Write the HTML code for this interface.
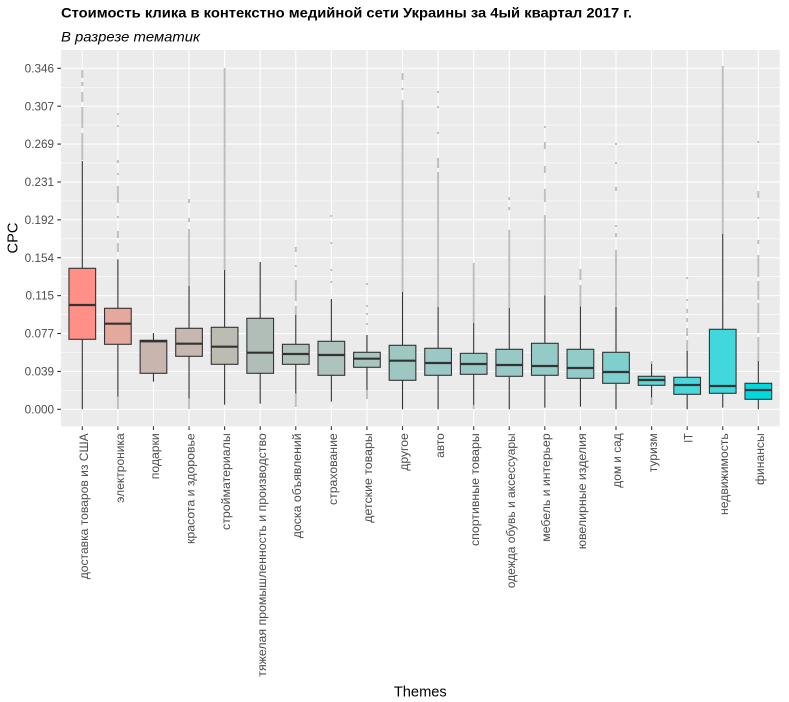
<!DOCTYPE html>
<html><head><meta charset="utf-8"><style>
html,body{margin:0;padding:0;background:#fff;}
svg{display:block;}
text{font-family:"Liberation Sans","Noto Sans CJK SC",sans-serif;}
</style></head><body>
<svg id="s" width="789" height="702" viewBox="0 0 789 702" xmlns="http://www.w3.org/2000/svg">
<rect x="0" y="0" width="789" height="702" fill="#fff"/>
<text x="61" y="17.5" font-size="14" font-weight="bold" fill="#000" textLength="571" lengthAdjust="spacingAndGlyphs">Стоимость клика в контекстно медийной сети Украины за 4ый квартал 2017 г.</text>
<text x="61" y="41.7" font-size="14" font-style="italic" fill="#000" textLength="139" lengthAdjust="spacingAndGlyphs">В разрезе тематик</text>
<rect x="61" y="50" width="718.7" height="376.3" fill="#EBEBEB"/>
<g id="grid"></g>
<g id="out"></g>
<g id="boxes"></g>
<g id="axes"></g>
<text transform="translate(17.3,238) rotate(-90)" text-anchor="middle" font-size="14.67" fill="#000">CPC</text>
<text x="420.3" y="696.7" text-anchor="middle" font-size="14.67" fill="#000">Themes</text>
<g fill="#4D4D4D" font-size="11.73">
<text x="54" y="409.3" dy="0.35em" text-anchor="end">0.000</text>
<text x="54" y="371.4" dy="0.35em" text-anchor="end">0.039</text>
<text x="54" y="333.5" dy="0.35em" text-anchor="end">0.077</text>
<text x="54" y="295.6" dy="0.35em" text-anchor="end">0.115</text>
<text x="54" y="257.7" dy="0.35em" text-anchor="end">0.154</text>
<text x="54" y="219.8" dy="0.35em" text-anchor="end">0.192</text>
<text x="54" y="181.9" dy="0.35em" text-anchor="end">0.231</text>
<text x="54" y="144.1" dy="0.35em" text-anchor="end">0.269</text>
<text x="54" y="106.2" dy="0.35em" text-anchor="end">0.307</text>
<text x="54" y="68.3" dy="0.35em" text-anchor="end">0.346</text>
</g>
<g fill="#4D4D4D" font-size="11.73" text-anchor="end">
<text transform="translate(87.8,433.3) rotate(-90)" textLength="146" lengthAdjust="spacingAndGlyphs">доставка товаров из США</text>
<text transform="translate(123.8,433.3) rotate(-90)" textLength="69.4" lengthAdjust="spacingAndGlyphs">электроника</text>
<text transform="translate(159.2,433.3) rotate(-90)" textLength="46" lengthAdjust="spacingAndGlyphs">подарки</text>
<text transform="translate(194.5,433.3) rotate(-90)" textLength="110.7" lengthAdjust="spacingAndGlyphs">красота и здоровье</text>
<text transform="translate(229.8,433.3) rotate(-90)" textLength="96.7" lengthAdjust="spacingAndGlyphs">стройматериалы</text>
<text transform="translate(265.8,433.3) rotate(-90)" textLength="243.4" lengthAdjust="spacingAndGlyphs">тяжелая промышленность и производство</text>
<text transform="translate(301.2,433.3) rotate(-90)" textLength="105" lengthAdjust="spacingAndGlyphs">доска объявлений</text>
<text transform="translate(336.8,433.3) rotate(-90)" textLength="71.7" lengthAdjust="spacingAndGlyphs">страхование</text>
<text transform="translate(371.8,433.3) rotate(-90)" textLength="89.4" lengthAdjust="spacingAndGlyphs">детские товары</text>
<text transform="translate(407.8,433.3) rotate(-90)" textLength="37.4" lengthAdjust="spacingAndGlyphs">другое</text>
<text transform="translate(443.8,433.3) rotate(-90)" textLength="24.4" lengthAdjust="spacingAndGlyphs">авто</text>
<text transform="translate(478.8,433.3) rotate(-90)" textLength="112.7" lengthAdjust="spacingAndGlyphs">спортивные товары</text>
<text transform="translate(514.8,433.3) rotate(-90)" textLength="155" lengthAdjust="spacingAndGlyphs">одежда обувь и аксессуары</text>
<text transform="translate(549.8,433.3) rotate(-90)" textLength="108.4" lengthAdjust="spacingAndGlyphs">мебель и интерьер</text>
<text transform="translate(585.8,433.3) rotate(-90)" textLength="116" lengthAdjust="spacingAndGlyphs">ювелирные изделия</text>
<text transform="translate(621.2,433.3) rotate(-90)" textLength="54.4" lengthAdjust="spacingAndGlyphs">дом и сад</text>
<text transform="translate(656.8,433.3) rotate(-90)" textLength="39" lengthAdjust="spacingAndGlyphs">туризм</text>
<text transform="translate(692.5,433.3) rotate(-90)" textLength="9.4" lengthAdjust="spacingAndGlyphs">IT</text>
<text transform="translate(727.8,433.3) rotate(-90)" textLength="81.7" lengthAdjust="spacingAndGlyphs">недвижимость</text>
<text transform="translate(763.8,433.3) rotate(-90)" textLength="51.7" lengthAdjust="spacingAndGlyphs">финансы</text>
</g>
</svg>
<script>
(function(){
var NS="http://www.w3.org/2000/svg";
function el(p,n,a){var e=document.createElementNS(NS,n);for(var k in a)e.setAttribute(k,a[k]);p.appendChild(e);return e;}
var grid=document.getElementById("grid"),out=document.getElementById("out"),boxes=document.getElementById("boxes"),axes=document.getElementById("axes");
var L=61,R=779.7,T=50,B=426.3;
var y0=409.3,st=37.89;
for(var k=-1;k<10;k++){var y=y0-(k+0.5)*st;if(y>T&&y<B)el(grid,"line",{x1:L,x2:R,y1:y,y2:y,stroke:"#fff","stroke-width":0.55});}
for(var k=0;k<10;k++){var y=y0-k*st;el(grid,"line",{x1:L,x2:R,y1:y,y2:y,stroke:"#fff","stroke-width":1.1});
 el(axes,"line",{x1:57.3,x2:61,y1:y,y2:y,stroke:"#333","stroke-width":1.1});}
var dx=35.58,x0=82.3;
for(var i=0;i<20;i++){var x=x0+i*dx;el(grid,"line",{x1:x,x2:x,y1:T,y2:B,stroke:"#fff","stroke-width":1.1});
 el(axes,"line",{x1:x,x2:x,y1:B,y2:B+3.7,stroke:"#333","stroke-width":1.1});}
var D=[
[161,268.3,305,339.3,409.3,"#FF9088",[[70,78],[82,86],[92,102],[107,128],[133,160]]],
[259.3,308.3,323.7,344.3,396.7,"#E5A89C",[[113,115],[125,127],[160,163],[173,175],[186,203],[216,218],[231,238],[243,252],[397,409]]],
[333,340.3,341.3,373.3,381.7,"#C8B5AE",[]],
[286,328.3,343.7,356.3,398.3,"#C6B8B0",[[199,203],[218,222],[229,286],[398,409]]],
[270,327.3,346.7,364.3,404.7,"#BDBCB3",[[68,270]]],
[262,318.3,352.7,373.3,403.7,"#B1BEB7",[]],
[315,344.3,354,364.3,393.3,"#B0C1BA",[[247,252],[265,267],[280,301],[306,315],[393,407]]],
[299,341.3,355,375.3,401.7,"#ADC3BD",[[215,217],[242,244],[269,271],[281,283]]],
[335,352.3,358.7,367.3,390,"#A8C5BF",[[283,285],[305,307],[313,315],[323,325],[390,399]]],
[292,345.3,360.7,380.3,409.3,"#9EC7C2",[[73,80],[88,90],[100,292]]],
[307,348.3,363,375.3,409.3,"#9BC8C4",[[91,93],[106,108],[132,134],[158,168],[172,307]]],
[323,353.3,364,374.3,404.7,"#99C9C5",[[263,323],[404,409]]],
[308,349.3,365,376.3,409.3,"#97CAC6",[[197,200],[207,210],[230,308]]],
[295.3,343.3,366,375.3,407.7,"#95CBC7",[[126,128],[142,149],[166,173],[189,202],[215,295]]],
[306.3,349.3,368,378.3,406.7,"#91CCC8",[[269,280],[285,306]]],
[307,352.3,372,383.3,409.3,"#80CFCF",[[143,145],[162,164],[187,191],[225,227],[233,237],[250,307]]],
[364,376.3,380,385.3,397.3,"#5AD5D8",[[361,364],[397,405]]],
[351,377.3,385,394.3,409.3,"#48D7DA",[[277,279],[299,301],[309,313],[318,322],[328,336],[340,351]]],
[234,329.3,386,393.3,407.7,"#40D8DC",[[66,234]]],
[361,383.3,390,399.3,409.3,"#00D8E0",[[141,143],[191,198],[217,219],[240,244],[255,277],[281,300],[303,333],[337,361]]]
];
var hw=13.34;
for(var i=0;i<D.length;i++){var d=D[i],x=x0+i*dx;
 d[6].forEach(function(s){el(out,"line",{x1:x,x2:x,y1:s[0],y2:s[1],stroke:"#BEBEBE","stroke-width":1.9});});
 el(boxes,"line",{x1:x,x2:x,y1:d[0],y2:d[1],stroke:"#333","stroke-width":1.1});
 el(boxes,"line",{x1:x,x2:x,y1:d[3],y2:d[4],stroke:"#333","stroke-width":1.1});
 el(boxes,"rect",{x:x-hw,y:d[1],width:2*hw,height:d[3]-d[1],fill:d[5],stroke:"#333","stroke-width":1.1});
 el(boxes,"line",{x1:x-hw,x2:x+hw,y1:d[2],y2:d[2],stroke:"#333","stroke-width":2.2});
}
})();
</script>
</body></html>
